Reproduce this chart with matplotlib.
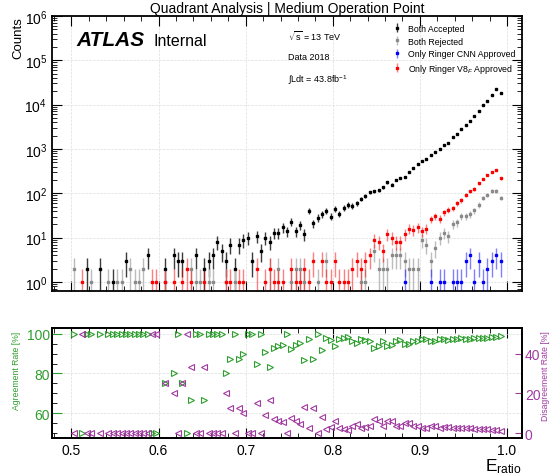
import numpy as np
import matplotlib
matplotlib.use('Agg')
import matplotlib.pyplot as plt
from matplotlib.ticker import LogLocator, MultipleLocator, NullFormatter

plt.rcParams['font.family'] = ['Liberation Sans', 'DejaVu Sans']
plt.rcParams['mathtext.fontset'] = 'custom'
plt.rcParams['mathtext.rm'] = 'Liberation Sans'
plt.rcParams['mathtext.it'] = 'Liberation Sans:italic'
plt.rcParams['mathtext.bf'] = 'Liberation Sans:bold'

# E_ratio binning: 0.005 wide bins, centres starting at 0.5025
bin_first = 0.5025
bin_width = 0.005
n_bins = 99
e_ratio = bin_first + bin_width * np.arange(n_bins)

# counts per bin for each quadrant
both_accepted = [
    0, 0, 0, 2, 0, 0, 2, 0, 0, 1,
    0, 0, 3, 0, 0, 0, 0, 4, 0, 0,
    0, 2, 0, 4, 3, 3, 0, 0, 4, 0,
    2, 3, 4, 8, 5, 3, 7, 2, 7, 9,
    10, 3, 11, 5, 10, 8, 13, 13, 17, 14,
    23, 14, 19, 12, 40, 21, 28, 34, 40, 30,
    45, 35, 47, 55, 52, 60, 74, 87, 105, 110,
    117, 138, 178, 155, 200, 224, 232, 305, 372, 447,
    525, 603, 741, 851, 1000, 1259, 1380, 1862, 2188, 2818,
    3467, 4365, 5623, 7079, 9550, 12300, 16600, 21900, 17800,
]
both_rejected = [
    2, 0, 0, 0, 1, 0, 0, 0, 1, 0,
    1, 1, 0, 2, 1, 1, 2, 0, 0, 0,
    0, 1, 0, 0, 0, 0, 0, 2, 1, 1,
    0, 1, 1, 0, 0, 1, 0, 1, 0, 0,
    0, 0, 0, 0, 0, 2, 0, 2, 0, 0,
    1, 2, 2, 1, 0, 0, 1, 0, 3, 0,
    0, 0, 0, 0, 0, 0, 1, 1, 0, 5,
    2, 2, 2, 4, 4, 4, 3, 2, 2, 2,
    9, 7, 3, 6, 10, 13, 11, 20, 22, 31,
    31, 34, 41, 55, 78, 92, 115, 115, 79,
]
only_cnn = [
    0, 0, 0, 0, 0, 0, 0, 0, 0, 0,
    0, 0, 0, 0, 0, 0, 0, 0, 0, 0,
    0, 0, 0, 0, 0, 0, 0, 0, 0, 0,
    0, 0, 0, 0, 0, 0, 0, 0, 0, 0,
    0, 0, 0, 0, 0, 0, 0, 0, 0, 0,
    0, 0, 0, 0, 0, 0, 0, 0, 0, 0,
    0, 0, 0, 0, 0, 0, 0, 0, 0, 0,
    0, 0, 0, 0, 0, 0, 1, 0, 0, 0,
    0, 0, 1, 0, 1, 1, 0, 1, 1, 1,
    3, 4, 1, 3, 1, 2, 3, 4, 3,
]
only_v8 = [
    0, 0, 1, 0, 0, 0, 0, 0, 0, 0,
    0, 0, 0, 0, 0, 0, 0, 0, 1, 1,
    0, 1, 0, 1, 0, 1, 2, 1, 0, 0,
    1, 0, 0, 0, 0, 1, 1, 0, 1, 1,
    0, 0, 2, 0, 1, 2, 1, 1, 1, 0,
    2, 1, 1, 2, 1, 3, 0, 3, 1, 1,
    3, 1, 1, 1, 2, 3, 2, 3, 4, 9,
    8, 5, 12, 10, 8, 8, 12, 16, 15, 17,
    14, 16, 26, 31, 27, 37, 42, 46, 60, 69,
    93, 110, 126, 169, 212, 261, 309, 337, 219,
]

series = [
    (both_accepted, 'black', '#3c3c3c', 'Both Accepted'),
    (both_rejected, '#8a8a8a', '#bcbcbc', 'Both Rejected'),
    (only_cnn, 'blue', (0.0, 0.0, 1.0, 0.5), 'Only Ringer CNN Approved'),
    (only_v8, 'red', (1.0, 0.0, 0.0, 0.5), 'Only Ringer V8$_{F}$ Approved'),
]

green = '#2e9e2e'
purple = '#a03aa0'

fig = plt.figure(figsize=(5.53, 4.77), dpi=100)
ax = fig.add_axes([0.094, 0.388, 0.850, 0.5766])
ax2 = fig.add_axes([0.094, 0.0797, 0.850, 0.2299], sharex=ax)

# --- counts panel ---
for counts, color, ecolor, label in series:
    counts = np.asarray(counts, dtype=float)
    keep = counts > 0
    ax.errorbar(e_ratio[keep], counts[keep], yerr=np.sqrt(counts[keep]),
                fmt='s', ms=1.6, color=color, ecolor=ecolor, elinewidth=1.0,
                capsize=0, label=label)

ax.set_yscale('log')
ax.set_ylim(0.63, 1e6)
ax.set_xlim(0.4777, 1.0172)
ax.yaxis.set_major_locator(LogLocator(base=10, numticks=10))
ax.yaxis.set_minor_locator(LogLocator(base=10, subs=np.arange(2, 10), numticks=20))
ax.yaxis.set_minor_formatter(NullFormatter())
ax.xaxis.set_major_locator(MultipleLocator(0.1))
ax.xaxis.set_minor_locator(MultipleLocator(0.02))
ax.tick_params(axis='x', labelbottom=False)
ax.tick_params(which='both', direction='in', top=True, right=True)
ax.tick_params(which='major', length=7, width=0.8, labelsize=10)
ax.tick_params(which='minor', length=3.5, width=0.6)
ax.grid(True, which='major', ls='--', lw=0.5, color='#dddddd')
for s in ax.spines.values():
    s.set_linewidth(1.3)

ax.legend(loc='upper left', bbox_to_anchor=(0.715, 0.99), frameon=False,
          fontsize=6.3, handlelength=0.9, handletextpad=0.8, labelspacing=0.42,
          borderaxespad=0.2)

ax.text(0.051, 0.915, 'ATLAS', transform=ax.transAxes, fontsize=15,
        fontweight='bold', fontstyle='italic', va='center')
ax.text(0.215, 0.912, 'Internal', transform=ax.transAxes, fontsize=11.5,
        va='center')
ax.text(0.502, 0.931, r'$\sqrt{\mathregular{s}}$ = 13 TeV', transform=ax.transAxes,
        fontsize=6.5, va='center')
ax.text(0.502, 0.851, 'Data 2018', transform=ax.transAxes, fontsize=6.5,
        va='center')
ax.text(0.502, 0.771, r'$\int$Ldt = 43.8fb$^{-1}$', transform=ax.transAxes,
        fontsize=6.5, va='center')

# --- agreement / disagreement panel ---
acc = np.asarray(both_accepted, dtype=float)
rej = np.asarray(both_rejected, dtype=float)
cnn = np.asarray(only_cnn, dtype=float)
v8 = np.asarray(only_v8, dtype=float)
total = acc + rej + cnn + v8
has = total > 0
agreement = 100 * (acc + rej)[has] / total[has]
disagreement = 100 * (cnn + v8)[has] / total[has]

# values outside the frame are pinned to its edge
ax2.plot(e_ratio[has], np.clip(agreement, 50, 100), ls='none', marker='>',
         ms=4, mfc='none', mec=green, mew=0.8)
ax2.set_ylim(47.6, 102.7)
ax2.yaxis.set_major_locator(MultipleLocator(20))
ax2.yaxis.set_minor_locator(MultipleLocator(5))
ax2.tick_params(which='both', direction='in', top=True, right=True)
ax2.tick_params(axis='y', which='major', colors=green, labelsize=10, length=7,
                width=0.8, pad=1.5)
ax2.tick_params(axis='y', which='minor', length=3.5, width=0.6)
ax2.tick_params(axis='x', which='major', length=7, width=0.8, labelsize=10)
ax2.tick_params(axis='x', which='minor', length=3.5, width=0.6)
ax2.grid(True, which='major', ls='--', lw=0.5, color='#dddddd')
for s in ax2.spines.values():
    s.set_linewidth(1.3)

ax3 = ax2.twinx()
ax3.plot(e_ratio[has], np.clip(disagreement, 0, 50), ls='none', marker='<',
         ms=4, mfc='none', mec=purple, mew=0.8)
ax3.set_ylim(47.6 - 50, 102.7 - 50)
ax3.yaxis.set_major_locator(MultipleLocator(20))
ax3.tick_params(axis='y', direction='in', colors=purple, labelsize=10,
                length=5, width=0.8, pad=2)
for s in ax3.spines.values():
    s.set_linewidth(1.3)

fig.text(0.519, 0.981, 'Quadrant Analysis | Medium Operation Point',
         ha='center', va='center', fontsize=10)
fig.text(0.033, 0.964, 'Counts', rotation=90, ha='center', va='top', fontsize=9.5)
fig.text(0.030, 0.305, 'Agreement Rate [%]', rotation=90, ha='center', va='top',
         fontsize=6.2, color=green)
fig.text(0.987, 0.305, 'Disagreement Rate [%]', rotation=90, ha='center', va='top',
         fontsize=6.2, color=purple)
fig.text(0.944, 0.021, r'E$_{\mathrm{ratio}}$', ha='right', va='center', fontsize=12.5)

fig.savefig('out.png', dpi=100)
